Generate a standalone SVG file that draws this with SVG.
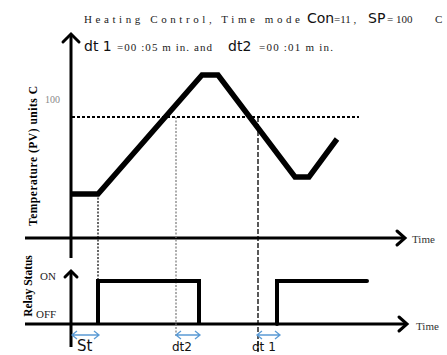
<svg xmlns="http://www.w3.org/2000/svg" width="447" height="355" viewBox="0 0 447 355">
<style>
.ax{stroke:#000;stroke-width:3;fill:none}
.chev{stroke:#000;stroke-width:3;fill:none;stroke-linecap:round;stroke-linejoin:miter}
.curve{stroke:#000;stroke-width:5.5;fill:none;stroke-linejoin:miter}
.relay{stroke:#000;stroke-width:4;fill:none;stroke-linejoin:miter}
.blue{stroke:#5B9BD5;stroke-width:1.3;fill:none}
.serif{font-family:"Liberation Serif","Times New Roman",serif}
.seg{font-family:"DejaVu Sans","Liberation Sans",sans-serif;fill:#111}
.title{font-family:"Liberation Serif",serif;font-size:11px;fill:#222}
</style>
<rect width="447" height="355" fill="#fff"/>
<g id="title">
<text x="84" y="23" class="title" textLength="216" lengthAdjust="spacing">Heating Control, Time mode</text>
<text x="307" y="23" class="seg" font-size="14">Con</text>
<text x="334" y="23" class="title">=11  ,</text>
<text x="368" y="23" class="seg" font-size="14">SP</text>
<text x="387" y="23" class="title">= 100</text>
<text x="435" y="23" class="title">C</text>
</g>
<g id="subtitle">
<text x="84" y="51" class="seg" font-size="14">dt 1</text>
<text x="117" y="51" class="title" textLength="95" lengthAdjust="spacing">=00  :05  m in. and</text>
<text x="228" y="51" class="seg" font-size="14">dt2</text>
<text x="259" y="51" class="title" textLength="74" lengthAdjust="spacing">=00  :01  m in.</text>
</g>
<g id="axes">
<line class="ax" x1="71" y1="34" x2="71" y2="258"/>
<polyline class="chev" points="63,42 71,34 79,42"/>
<line class="ax" x1="25" y1="238" x2="404" y2="238"/>
<polyline class="chev" points="397,231 405,238 397,245"/>
<line class="ax" x1="71" y1="271" x2="71" y2="347"/>
<polyline class="chev" points="65,277 71,271 77,277"/>
<line class="ax" x1="25" y1="324" x2="406" y2="324"/>
<polyline class="chev" points="399,317 407,324 399,331"/>
</g>
<g id="labels">
<text transform="translate(37,156) rotate(-90)" text-anchor="middle" class="serif" font-size="11.5" font-weight="bold" textLength="140" lengthAdjust="spacing">Temperature (PV) units  C</text>
<text transform="translate(32,286) rotate(-90)" text-anchor="middle" class="serif" font-size="11.5" font-weight="bold">Relay Status</text>
<text x="45" y="103" class="serif" font-size="10" fill="#888">100</text>
<text x="40" y="280" class="serif" font-size="11" fill="#222">ON</text>
<text x="36" y="318" class="serif" font-size="11" fill="#222">OFF</text>
<text x="412" y="243" class="serif" font-size="11" fill="#333">Time</text>
<text x="416" y="330" class="serif" font-size="11" fill="#333">Time</text>
</g>
<g id="guides">
<line x1="72" y1="117" x2="359" y2="117" stroke="#000" stroke-width="2" stroke-dasharray="3,2"/>
<line x1="98" y1="194" x2="98" y2="281" stroke="#000" stroke-width="1.2" stroke-dasharray="2,1.5"/>
<line x1="176" y1="117" x2="176" y2="336" stroke="#777" stroke-width="1.2" stroke-dasharray="2,1.5"/>
<line x1="258" y1="117" x2="258" y2="352" stroke="#000" stroke-width="1.3" stroke-dasharray="5,2"/>
</g>
<g id="temperature-curve">
<polyline class="curve" points="71,194 98,194 202,75 218,75 295,177 309,177 337,139"/>
</g>
<g id="relay-signal">
<polyline class="relay" points="98,324 98,281 199,281 199,324"/>
<polyline class="relay" points="277,324 277,281 367,281" stroke-linecap="round"/>
</g>
<g id="intervals">
<path class="blue" d="M72,335 H99 M77,331 L72,335 L77,339 M94,331 L99,335 L94,339"/>
<path class="blue" d="M176,335 H200 M181,331 L176,335 L181,339 M195,331 L200,335 L195,339"/>
<path class="blue" d="M257,335 H280 M262,331 L257,335 L262,339 M275,331 L280,335 L275,339"/>
<text x="77" y="351" class="seg" font-size="15">St</text>
<text x="172" y="351" class="seg" font-size="12">dt2</text>
<text x="252" y="351" class="seg" font-size="12">dt 1</text>
</g>
</svg>
